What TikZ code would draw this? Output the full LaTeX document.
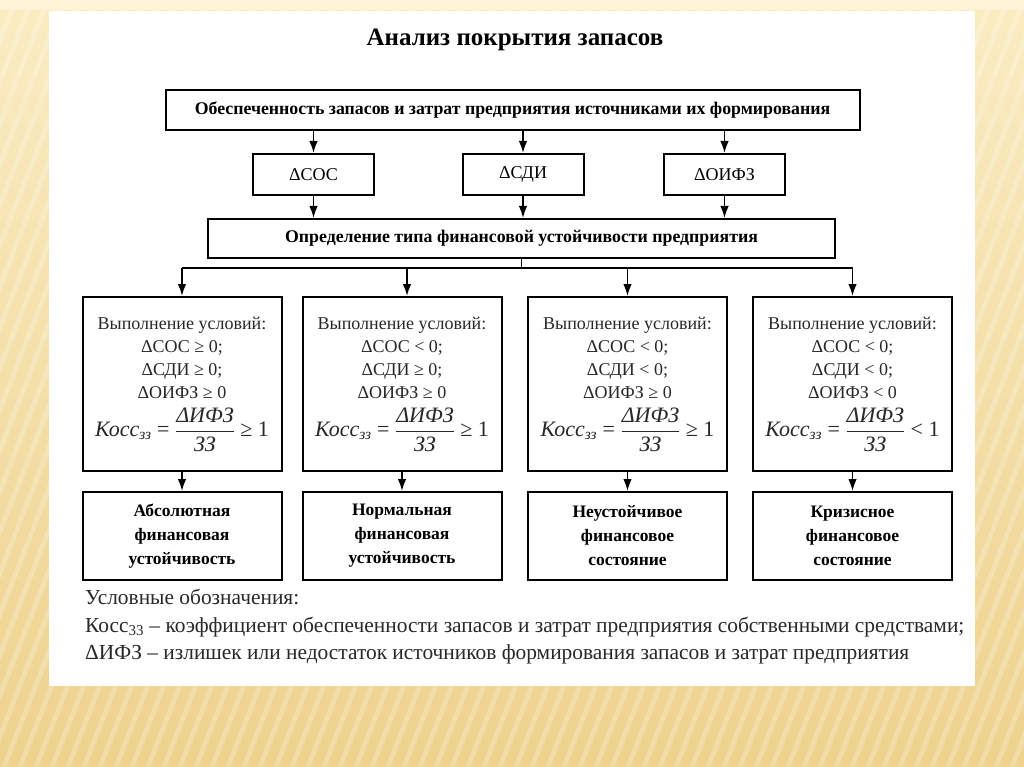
\documentclass[tikz,border=0pt]{standalone}
\usepackage{amsmath}
\usepackage{fontspec}
\setmainfont{Liberation Serif}
\usetikzlibrary{arrows.meta,positioning}

\definecolor{bgtop}{RGB}{250,236,194}
\definecolor{bgbottom}{RGB}{238,210,142}
\definecolor{bgband}{RGB}{252,244,212}
\definecolor{inktext}{RGB}{40,40,40}

\tikzset{
  box/.style={draw=black, line width=2pt, fill=white, align=center, inner sep=2pt},
  headbox/.style={box, font=\fontsize{17.8}{22}\selectfont\bfseries},
  deltabox/.style={box, minimum width=121pt, minimum height=41pt, font=\fontsize{18}{22}\selectfont},
  condbox/.style={box, minimum width=199pt, minimum height=174pt, font=\fontsize{18}{23}\selectfont, text=inktext},
  resultbox/.style={box, minimum width=199pt, minimum height=88pt, font=\fontsize{17.5}{24}\selectfont\bfseries},
  arr/.style={-{Latex[length=12pt,width=8.5pt]}, line width=1.6pt},
}

% coefficient formula, #1 = relation sign
\newcommand{\kossfrac}[1]{{\fontsize{22}{25}\selectfont
  $\textit{Косс}_{\text{\itshape зз}}\text{ = }\dfrac{\text{\itshape ΔИФЗ}}{\text{\itshape ЗЗ}}\text{ #1 1}$}}

\begin{document}
\begin{tikzpicture}[x=1pt, y=-1pt]
  \useasboundingbox (0,0) rectangle (1024,767);
  % slide background
  \shade[top color=bgtop, bottom color=bgbottom] (0,0) rectangle (1024,767);
  \begin{scope}
    \clip (0,0) rectangle (1024,767);
    \foreach \s in {-700,-684,...,1024}
      \draw[white, opacity=0.22, line width=5pt] (\s,767) -- ++(300,-767);
  \end{scope}
  \fill[bgband] (0,0) rectangle (1024,10);
  \fill[white] (49,11) rectangle (975,686);

  \node[font=\fontsize{25}{28}\selectfont\bfseries] (title) at (515,40) {Анализ покрытия запасов};

  \node[headbox, minimum width=694pt, minimum height=40pt] (supply) at (512.5,110.5)
    {Обеспеченность запасов и затрат предприятия источниками их формирования};

  \node[deltabox] (dsos) at (313.5,174.5) {ΔСОС};
  \node[deltabox] (dsdi) at (523,174.5) {ΔСДИ};
  \node[deltabox] (doifz) at (724.5,174.5) {ΔОИФЗ};

  \node[headbox, minimum width=627pt, minimum height=39pt] (stype) at (521.5,238.5)
    {Определение типа финансовой устойчивости предприятия};

  \node[condbox] (c1) at (182,384) {Выполнение условий:\\ ΔСОС ≥ 0;\\ ΔСДИ ≥ 0;\\ ΔОИФЗ ≥ 0\\[9pt] \kossfrac{≥}};
  \node[condbox] (c2) at (402,384) {Выполнение условий:\\ ΔСОС < 0;\\ ΔСДИ ≥ 0;\\ ΔОИФЗ ≥ 0\\[9pt] \kossfrac{≥}};
  \node[condbox] (c3) at (627.5,384) {Выполнение условий:\\ ΔСОС < 0;\\ ΔСДИ < 0;\\ ΔОИФЗ ≥ 0\\[9pt] \kossfrac{≥}};
  \node[condbox] (c4) at (852.5,384) {Выполнение условий:\\ ΔСОС < 0;\\ ΔСДИ < 0;\\ ΔОИФЗ < 0\\[9pt] \kossfrac{<}};

  \node[resultbox] (r1) at (182,536) {Абсолютная\\ финансовая\\ устойчивость};
  \node[resultbox] (r2) at (402,536) {Нормальная\\ финансовая\\ устойчивость};
  \node[resultbox] (r3) at (627.5,536) {Неустойчивое\\ финансовое\\ состояние};
  \node[resultbox] (r4) at (852.5,536) {Кризисное\\ финансовое\\ состояние};

  \node[anchor=north west, align=left, inner sep=0pt, text=inktext,
        font=\fontsize{21.4}{27.5}\selectfont] (legend) at (85,589)
    {Условные обозначения:\\
     Косс\textsubscript{33} – коэффициент обеспеченности запасов и затрат предприятия собственными средствами;\\
     ΔИФЗ – излишек или недостаток источников формирования запасов и затрат предприятия};

  % connectors
  \foreach \n in {dsos,dsdi,doifz} {
    \draw[arr] (supply.south -| \n) -- (\n.north);
    \draw[arr] (\n.south) -- (\n.south |- stype.north);
  }
  \coordinate (bus) at (stype.south |- 0,268);
  \draw[line width=1.3pt] (stype.south) -- (bus);
  \draw[line width=1.6pt] (c1.north |- bus) -- (c4.north |- bus);
  \draw[arr] (c1.north |- bus) -- (c1.north);
  \draw[arr] ([xshift=5pt]c2.north |- bus) -- ([xshift=5pt]c2.north);
  \draw[arr] (c3.north |- bus) -- (c3.north);
  \draw[arr] (c4.north |- bus) -- (c4.north);
  \foreach \i in {1,2,3,4}
    \draw[arr] (c\i.south) -- (r\i.north);
\end{tikzpicture}
\end{document}
